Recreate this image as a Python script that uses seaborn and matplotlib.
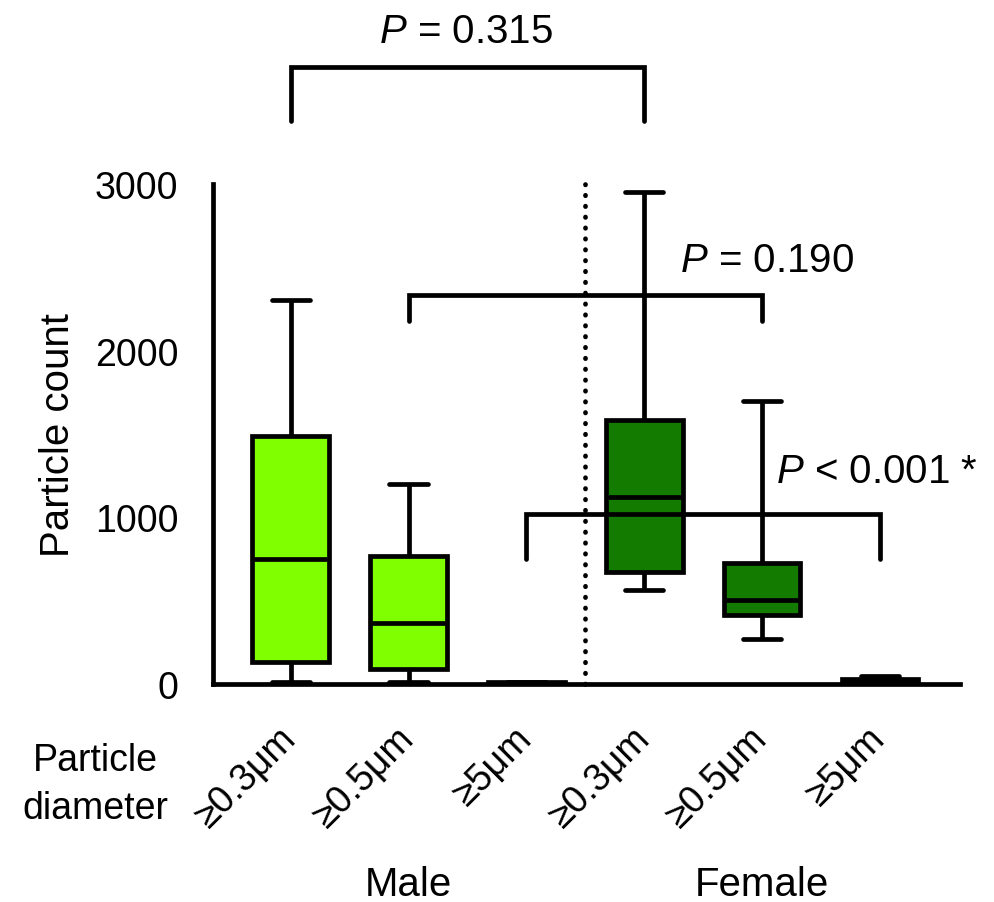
import numpy as np
import pandas as pd
import matplotlib
matplotlib.use("Agg")
import matplotlib.pyplot as plt
import matplotlib.transforms as mtransforms
import seaborn as sns

# ---- data (five-number summaries: min, Q1, median, Q3, max)
groups = ["M_0.3", "M_0.5", "M_5", "F_0.3", "F_0.5", "F_5"]
tick_labels = ["≥0.3μm", "≥0.5μm", "≥5μm", "≥0.3μm", "≥0.5μm", "≥5μm"]
male_03 = [10, 132, 750, 1490, 2305]
male_05 = [10, 90, 365, 768, 1200]
male_5 = [2, 4, 6, 10, 15]
female_03 = [566, 674, 1122, 1586, 2950]
female_05 = [270, 412, 505, 726, 1700]
female_5 = [5, 12, 20, 30, 48]
colors = ["#7FFF00", "#7FFF00", "#7FFF00", "#127B00", "#127B00", "#127B00"]
sexes = ["Male", "Female"]
p_texts = ["$P$ = 0.315", "$P$ = 0.190", "$P$ < 0.001 *"]

sns.set_theme(style="white")
plt.rcParams["font.family"] = ["Liberation Sans", "DejaVu Sans"]
plt.rcParams["mathtext.fontset"] = "custom"
plt.rcParams["mathtext.rm"] = "Liberation Sans"
plt.rcParams["mathtext.it"] = "Liberation Sans:italic"

values = [male_03, male_05, male_5, female_03, female_05, female_5]
df = pd.DataFrame({
    "group": np.repeat(groups, [len(v) for v in values]),
    "value": np.concatenate(values),
})

FS = 27
FS2 = 29
LW = 3.4
fig = plt.figure(figsize=(9.94, 9.03), dpi=100)
ax = fig.add_axes([213 / 994, 1 - 685 / 903, (960 - 213) / 994, 500 / 903])

sns.boxplot(data=df, x="group", y="value", hue="group", order=groups,
            hue_order=groups, palette=colors, whis=(0, 100), width=0.65,
            linecolor="black", linewidth=LW, saturation=1, legend=False,
            showfliers=False, ax=ax)

ax.set_xlim(-0.66, 5.68)
ax.set_ylim(0, 3000)
ax.set_yticks([0, 1000, 2000, 3000])
ax.set_xticks(range(6))
ax.set_xticklabels(tick_labels, rotation=45, ha="right", rotation_mode="anchor",
                   va="center", fontsize=FS)
ax.tick_params(axis="both", direction="out", length=17, width=LW, color="black",
               labelsize=FS, pad=8, labelcolor="black")
ax.tick_params(axis="x", pad=18)
ax.set_xlabel("")
ax.set_ylabel("Particle count", fontsize=FS2, labelpad=13, color="black")
for s in ["top", "right"]:
    ax.spines[s].set_visible(False)
for s in ["left", "bottom"]:
    ax.spines[s].set_linewidth(LW)
    ax.spines[s].set_color("black")
ax.spines["left"].set_bounds(0, 3000)

# dotted separator
ax.plot([2.5, 2.5], [0, 3000], color="black", linestyle=(0, (0.1, 2.2)),
        linewidth=LW, dash_capstyle="round", clip_on=False, zorder=1)

# significance brackets
def bracket(x1, x2, y, leg, text, tx, ty):
    ax.plot([x1, x1, x2, x2], [leg, y, y, leg], color="black", linewidth=LW,
            clip_on=False, solid_joinstyle="miter", zorder=5)
    ax.text(tx, ty, text, ha="center", va="baseline", fontsize=FS2, color="black")

bracket(0, 3, 3702, 3378, p_texts[0], 1.49, 3852)
bracket(1, 4, 2334, 2178, p_texts[1], 4.04, 2478)
bracket(2, 5, 1020, 750, p_texts[2], 4.97, 1212)

# bottom annotations
fig.text(95 / 994, 1 - 785 / 903, "Particle\ndiameter", ha="center", va="center",
         fontsize=FS, linespacing=1.4, color="black")
trans = mtransforms.blended_transform_factory(ax.transData, fig.transFigure)
ax.text(1, 1 - 885 / 903, sexes[0], ha="center", va="center", fontsize=FS2,
        transform=trans, color="black")
ax.text(4, 1 - 885 / 903, sexes[1], ha="center", va="center", fontsize=FS2,
        transform=trans, color="black")

fig.savefig("out.png", dpi=100)
